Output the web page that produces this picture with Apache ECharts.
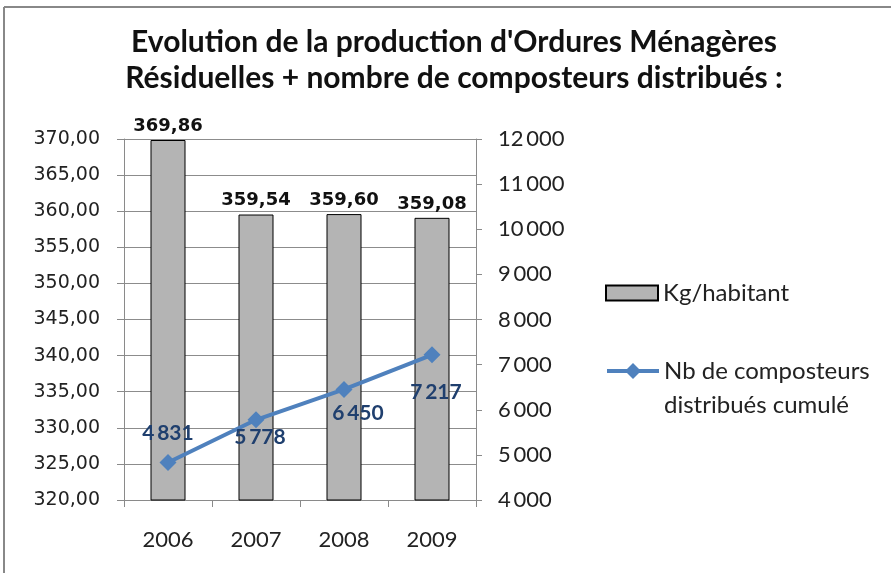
<!DOCTYPE html>
<html><head><meta charset="utf-8">
<script src="https://cdn.jsdelivr.net/npm/echarts@6/dist/echarts.min.js"></script>
<style>html,body{margin:0;padding:0;background:#fff}#c{width:891px;height:573px}</style>
</head><body><div id="c"></div>
<script>
const years = ['2006','2007','2008','2009'];
const kgHabitant = [369.86, 359.54, 359.60, 359.08];
const composteurs = [4831, 5778, 6450, 7217];
const titleLines = ["Evolution de la production d'Ordures Ménagères", "Résiduelles + nombre de composteurs distribués :"];
const barName = 'Kg/habitant';
const lineName = 'Nb de composteurs distribués cumulé';
const lineLegendLines = ['Nb de composteurs', 'distribués cumulé'];

const fr2 = v => v.toFixed(2).replace('.', ',');
const thou = v => String(Math.round(v)).replace(/\B(?=(\d{3})+(?!\d))/g, '\u2009');
// label placement (styling only)
const lineLabelPos = ['top', 'bottom', 'bottom', 'bottom'];
const lineLabelOff = [[0, 0], [4, -12], [14, -5], [4, 8]];

const chart = echarts.init(document.getElementById('c'));
chart.setOption({
  animation: false,
  backgroundColor: '#fff',
  title: {
    text: titleLines.join('\n'), left: 449, top: 19, textAlign: 'center',
    textStyle: { fontFamily: 'Lato', fontWeight: 'bold', fontSize: 30, lineHeight: 36, color: '#111' }
  },
  graphic: [
    { type: 'line', shape: { x1: 4, y1: 7, x2: 891, y2: 7 }, style: { stroke: '#888', lineWidth: 2 } },
    { type: 'line', shape: { x1: 4, y1: 7, x2: 4, y2: 573 }, style: { stroke: '#888', lineWidth: 2 } }
  ],
  legend: [
    { data: [{ name: barName, icon: 'rect' }], left: 605, top: 281, padding: 0, itemWidth: 52, itemHeight: 15, itemGap: 0,
      textStyle: { fontFamily: 'Lato', fontSize: 24, color: '#222' } },
    { data: [lineName], left: 605, top: 320, padding: 0, itemWidth: 52, itemHeight: 20,
      lineStyle: { width: 4 },
      formatter: n => '\n' + lineLegendLines.join('\n'),
      textStyle: { fontFamily: 'Lato', fontSize: 24, lineHeight: 34, color: '#222' } }
  ],
  grid: { left: 124, right: 415, top: 139, bottom: 73, containLabel: false },
  xAxis: {
    type: 'category', data: years, boundaryGap: true,
    axisLine: { lineStyle: { color: '#8a8a8a', width: 1 } },
    axisTick: { show: true, alignWithLabel: false, length: 7, lineStyle: { color: '#8a8a8a' } },
    axisLabel: { margin: 29, fontFamily: 'Lato', fontSize: 22, color: '#222' }
  },
  yAxis: [
    { type: 'value', min: 320, max: 370, interval: 5, position: 'left',
      axisLine: { show: true, lineStyle: { color: '#8a8a8a' } },
      axisTick: { show: true, length: 7, lineStyle: { color: '#8a8a8a' } },
      splitLine: { show: true, lineStyle: { color: '#8c8c8c', width: 1 } },
      axisLabel: { formatter: fr2, margin: 24, fontFamily: 'DejaVu Sans', fontSize: 19, color: '#222' } },
    { type: 'value', min: 4000, max: 12000, interval: 1000, position: 'right',
      axisLine: { show: true, lineStyle: { color: '#8a8a8a' } },
      axisTick: { show: true, length: 6, lineStyle: { color: '#8a8a8a' } },
      splitLine: { show: false },
      axisLabel: { formatter: thou, margin: 22, fontFamily: 'Lato', fontSize: 22, color: '#222' } }
  ],
  series: [
    { name: barName, type: 'bar', data: kgHabitant, barWidth: 35, yAxisIndex: 0,
      itemStyle: { color: '#b4b4b4', borderColor: '#000', borderWidth: 1 },
      label: { show: true, position: 'top', distance: 5, formatter: p => fr2(p.value),
        fontFamily: 'DejaVu Sans', fontWeight: 'bold', fontSize: 18, color: '#111' } },
    { name: lineName, type: 'line', yAxisIndex: 1, z: 5,
      data: composteurs.map((v, i) => ({ value: v,
        label: { position: lineLabelPos[i], offset: lineLabelOff[i] } })),
      lineStyle: { color: '#4f81bd', width: 4 },
      itemStyle: { color: '#4f81bd' },
      symbol: 'diamond', symbolSize: 17,
      label: { show: true, formatter: p => thou(p.value), fontFamily: 'Lato', fontWeight: 'bold',
        fontSize: 21, color: '#1f3f6e', distance: 10 } }
  ]
});
</script></body></html>
